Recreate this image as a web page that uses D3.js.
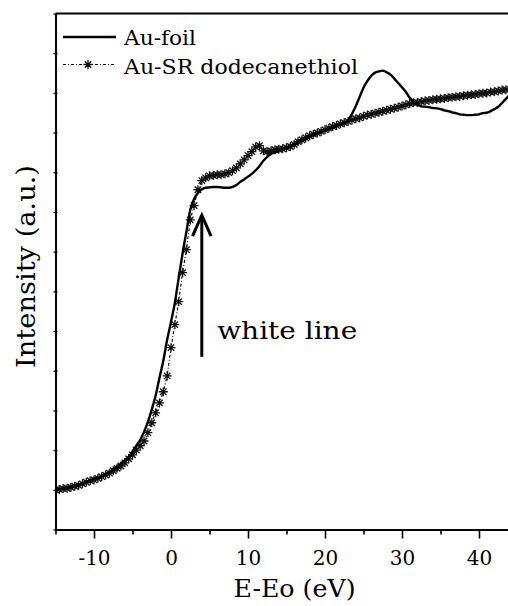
<!DOCTYPE html>
<html>
<head>
<meta charset="utf-8">
<script src="https://cdn.jsdelivr.net/npm/d3@7/dist/d3.min.js"></script>
<style>
  html, body { margin: 0; padding: 0; background: #fff; }
  svg { display: block; }
  text { font-family: "DejaVu Serif", "Liberation Serif", serif; fill: #000; }
</style>
</head>
<body>
<svg id="chart" width="508" height="606"></svg>
<script>
// Energy relative to the Au L3 edge (eV), 0.5 eV steps
const energy = [
  -15,-14.5,-14,-13.5,-13,-12.5,-12,-11.5,-11,-10.5,-10,-9.5,-9,-8.5,-8,-7.5,-7,-6.5,-6,-5.5,
  -5,-4.5,-4,-3.5,-3,-2.5,-2,-1.5,-1,-0.5,0,0.5,1,1.5,2,2.5,3,3.5,4,4.5,
  5,5.5,6,6.5,7,7.5,8,8.5,9,9.5,10,10.5,11,11.5,12,12.5,13,13.5,14,14.5,
  15,15.5,16,16.5,17,17.5,18,18.5,19,19.5,20,20.5,21,21.5,22,22.5,23,23.5,24,24.5,
  25,25.5,26,26.5,27,27.5,28,28.5,29,29.5,30,30.5,31,31.5,32,32.5,33,33.5,34,34.5,
  35,35.5,36,36.5,37,37.5,38,38.5,39,39.5,40,40.5,41,41.5,42,42.5,43,43.5,44
];

// Normalised absorption, bulk gold foil
const auFoil = [
  0.000,0.001,0.003,0.005,0.008,0.010,0.013,0.016,0.020,0.024,0.028,0.031,0.035,0.040,0.045,0.052,0.058,0.066,0.074,0.083,
  0.096,0.111,0.126,0.146,0.171,0.202,0.237,0.282,0.325,0.378,0.423,0.471,0.534,0.595,0.650,0.705,0.733,0.748,0.757,0.761,
  0.762,0.763,0.763,0.762,0.761,0.761,0.763,0.768,0.776,0.782,0.789,0.796,0.805,0.816,0.829,0.839,0.847,0.850,0.854,0.858,
  0.862,0.864,0.869,0.874,0.879,0.884,0.889,0.893,0.897,0.901,0.905,0.908,0.912,0.916,0.920,0.923,0.930,0.947,0.967,0.990,
  1.013,1.030,1.043,1.051,1.054,1.056,1.052,1.046,1.036,1.025,1.014,1.002,0.988,0.978,0.970,0.966,0.965,0.964,0.962,0.961,
  0.959,0.956,0.954,0.951,0.949,0.946,0.945,0.944,0.944,0.945,0.946,0.949,0.950,0.954,0.959,0.965,0.975,0.985,0.995
];

// Normalised absorption, dodecanethiolate-protected gold clusters
const auSR = [
  0.000,0.001,0.003,0.004,0.006,0.009,0.011,0.015,0.019,0.023,0.025,0.029,0.033,0.037,0.042,0.048,0.054,0.060,0.068,0.078,
  0.088,0.100,0.111,0.123,0.144,0.169,0.194,0.219,0.247,0.287,0.358,0.416,0.474,0.547,0.605,0.680,0.716,0.756,0.779,0.786,
  0.791,0.792,0.794,0.794,0.796,0.799,0.804,0.811,0.821,0.831,0.842,0.852,0.864,0.867,0.854,0.852,0.854,0.857,0.858,0.859,
  0.862,0.865,0.870,0.877,0.882,0.887,0.892,0.896,0.899,0.903,0.907,0.911,0.915,0.918,0.922,0.925,0.928,0.932,0.935,0.937,
  0.941,0.944,0.946,0.949,0.951,0.954,0.956,0.959,0.961,0.964,0.967,0.970,0.973,0.975,0.976,0.978,0.980,0.981,0.983,0.984,
  0.985,0.986,0.988,0.989,0.990,0.991,0.993,0.994,0.995,0.996,0.998,0.999,1.000,1.002,1.003,1.005,1.007,1.008,1.009
];

const seriesNames = ["Au-foil", "Au-SR dodecanethiol"];
const xMajorTicks = [-10, 0, 10, 20, 30, 40];
const xMinorTicks = [-15, -5, 5, 15, 25, 35, 45];
const yTicks = d3.range(-0.1, 1.2001, 0.1);

// "white line" annotation: arrow at E = 4 eV
const arrowE = 4, arrowFrom = 0.335, arrowTo = 0.692;
const noteLabel = "white line", noteE = 6.0, noteY = 0.38;

const svg = d3.select("#chart");
const W = 508, H = 606;
const plotLeft = 55.5, plotTop = 13.5, plotBottom = 529.5;

svg.append("rect").attr("width", W).attr("height", H).attr("fill", "#fff");

const x = d3.scaleLinear().domain([-15, 45]).range([plotLeft, plotLeft + 60 * 7.7]);
const y = d3.scaleLinear().domain([-0.1, 1.2]).range([plotBottom, plotTop]);

svg.append("defs").append("clipPath").attr("id", "plot-clip")
  .append("rect").attr("x", plotLeft).attr("y", plotTop)
  .attr("width", x(45) - plotLeft).attr("height", plotBottom - plotTop);

const plot = svg.append("g").attr("clip-path", "url(#plot-clip)");

const srData = energy.map((e, i) => [e, auSR[i]]);
const foilData = energy.map((e, i) => [e, auFoil[i]]);

// thiolate clusters: dash-dot connector with asterisk markers
plot.append("path")
  .datum(srData)
  .attr("fill", "none").attr("stroke", "#000").attr("stroke-width", 1.1)
  .attr("stroke-dasharray", "3,2,1,2")
  .attr("d", d3.line().x(d => x(d[0])).y(d => y(d[1])));

const starPath = "M0,-4.5V4.5M-4.5,0H4.5M-3.2,-3.2L3.2,3.2M-3.2,3.2L3.2,-3.2";
plot.append("g").selectAll("path").data(srData).join("path")
  .attr("transform", d => `translate(${x(d[0])},${y(d[1])})`)
  .attr("d", starPath)
  .attr("fill", "none").attr("stroke", "#111").attr("stroke-width", 1.3);

// gold foil: solid line
plot.append("path")
  .datum(foilData)
  .attr("fill", "none").attr("stroke", "#000").attr("stroke-width", 2.4)
  .attr("stroke-linejoin", "round")
  .attr("d", d3.line().x(d => x(d[0])).y(d => y(d[1])).curve(d3.curveMonotoneX));

// frame: left and bottom axes, top border
svg.append("line").attr("x1", plotLeft).attr("x2", x(45)).attr("y1", plotTop).attr("y2", plotTop)
  .attr("stroke", "#000").attr("stroke-width", 2);

const xAxisMajor = svg.append("g").attr("transform", `translate(0,${plotBottom})`)
  .call(d3.axisBottom(x).tickValues(xMajorTicks).tickSize(9).tickSizeOuter(0).tickFormat(d => String(d)));
xAxisMajor.select(".domain").attr("stroke-width", 2);
xAxisMajor.selectAll(".tick line").attr("stroke-width", 1.6);
xAxisMajor.selectAll(".tick text")
  .attr("y", 35.5).attr("dy", 0)
  .style("font-family", "'DejaVu Serif', serif").style("font-size", "20px");

const xAxisMinor = svg.append("g").attr("transform", `translate(0,${plotBottom})`)
  .call(d3.axisBottom(x).tickValues(xMinorTicks).tickSize(5).tickSizeOuter(0).tickFormat(""));
xAxisMinor.select(".domain").remove();
xAxisMinor.selectAll(".tick line").attr("stroke-width", 1.6);

const yAxis = svg.append("g").attr("transform", `translate(${plotLeft},0)`)
  .call(d3.axisLeft(y).tickValues(yTicks).tickSize(-3).tickSizeOuter(0).tickFormat(""));
yAxis.select(".domain").attr("stroke-width", 2);
yAxis.selectAll(".tick line").attr("x1", 2).attr("x2", -2).attr("stroke-width", 1.2);

// axis titles
svg.append("text")
  .attr("x", 294.5).attr("y", 597)
  .attr("text-anchor", "middle")
  .attr("font-size", 24)
  .attr("textLength", 122).attr("lengthAdjust", "spacingAndGlyphs")
  .text("E-Eo (eV)");

svg.append("text")
  .attr("transform", "translate(35,266.5) rotate(-90)")
  .attr("text-anchor", "middle")
  .attr("font-size", 26)
  .attr("textLength", 203).attr("lengthAdjust", "spacingAndGlyphs")
  .text("Intensity (a.u.)");

// legend
const legend = svg.append("g");
legend.append("line").attr("x1", 63).attr("x2", 116).attr("y1", 37).attr("y2", 37)
  .attr("stroke", "#000").attr("stroke-width", 2.4);
legend.append("text").attr("x", 124).attr("y", 45).attr("font-size", 20)
  .attr("textLength", 72).attr("lengthAdjust", "spacingAndGlyphs").text(seriesNames[0]);
legend.append("line").attr("x1", 63).attr("x2", 116).attr("y1", 64.5).attr("y2", 64.5)
  .attr("stroke", "#000").attr("stroke-width", 1.1).attr("stroke-dasharray", "3,2,1,2");
legend.append("path").attr("transform", "translate(88,64.5)").attr("d", starPath)
  .attr("fill", "none").attr("stroke", "#111").attr("stroke-width", 1.3);
legend.append("text").attr("x", 124).attr("y", 74).attr("font-size", 20)
  .attr("textLength", 234).attr("lengthAdjust", "spacingAndGlyphs").text(seriesNames[1]);

// white-line arrow and note
const ax = x(arrowE);
svg.append("line").attr("x1", ax).attr("x2", ax).attr("y1", y(arrowFrom)).attr("y2", y(arrowTo) + 2)
  .attr("stroke", "#000").attr("stroke-width", 3);
svg.append("path")
  .attr("d", `M${x(arrowE - 1.2)},${y(arrowTo) + 21}L${ax},${y(arrowTo)}L${x(arrowE + 1.2)},${y(arrowTo) + 21}`)
  .attr("fill", "none").attr("stroke", "#000").attr("stroke-width", 3)
  .attr("stroke-linejoin", "miter");
svg.append("text")
  .attr("x", x(noteE)).attr("y", y(noteY))
  .attr("font-size", 24)
  .attr("textLength", 140).attr("lengthAdjust", "spacingAndGlyphs")
  .text(noteLabel);
</script>
</body>
</html>
